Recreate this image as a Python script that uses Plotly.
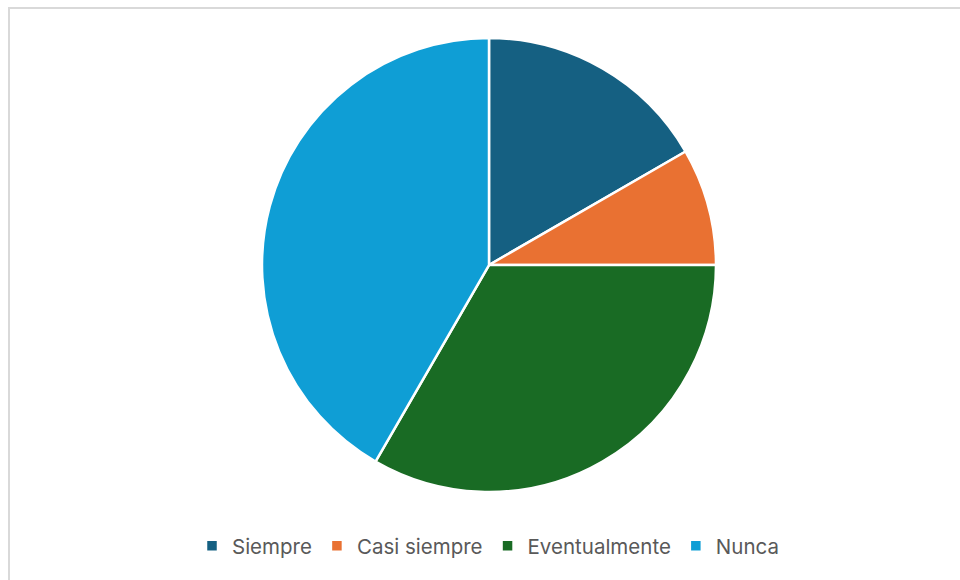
import plotly.graph_objects as go

categories = ["Siempre", "Casi siempre", "Eventualmente", "Nunca"]
values = [2, 1, 4, 5]
colors = ["#156082", "#E97132", "#196B24", "#0F9ED5"]

W, H = 960, 580
cx, cy, r = 489, 265, 227

fig = go.Figure(go.Pie(
    labels=categories,
    values=values,
    sort=False,
    direction="clockwise",
    rotation=0,
    textinfo="none",
    hoverinfo="label+percent",
    marker=dict(colors=colors, line=dict(color="white", width=2.5)),
    domain=dict(x=[(cx - r) / W, (cx + r) / W], y=[(H - cy - r) / H, (H - cy + r) / H]),
))

fig.update_layout(
    width=W, height=H,
    margin=dict(l=0, r=0, t=0, b=0),
    paper_bgcolor="white",
    plot_bgcolor="white",
    showlegend=True,
    legend=dict(
        orientation="h",
        x=488 / W, xanchor="center",
        y=(H - 546) / H, yanchor="middle",
        font=dict(family="Inter, Open Sans, sans-serif", size=20.5, color="#595959"),
        itemwidth=30,
        traceorder="normal",
    ),
    shapes=[dict(type="rect", xref="paper", yref="paper",
                 x0=9 / W, x1=1.05, y0=-0.05, y1=(H - 8) / H,
                 line=dict(color="#D9D9D9", width=2), fillcolor="rgba(0,0,0,0)")],
)

fig.write_html("out.html", config={"displayModeBar": False},
               post_script="document.body.style.margin='0';document.body.style.overflow='hidden';")
